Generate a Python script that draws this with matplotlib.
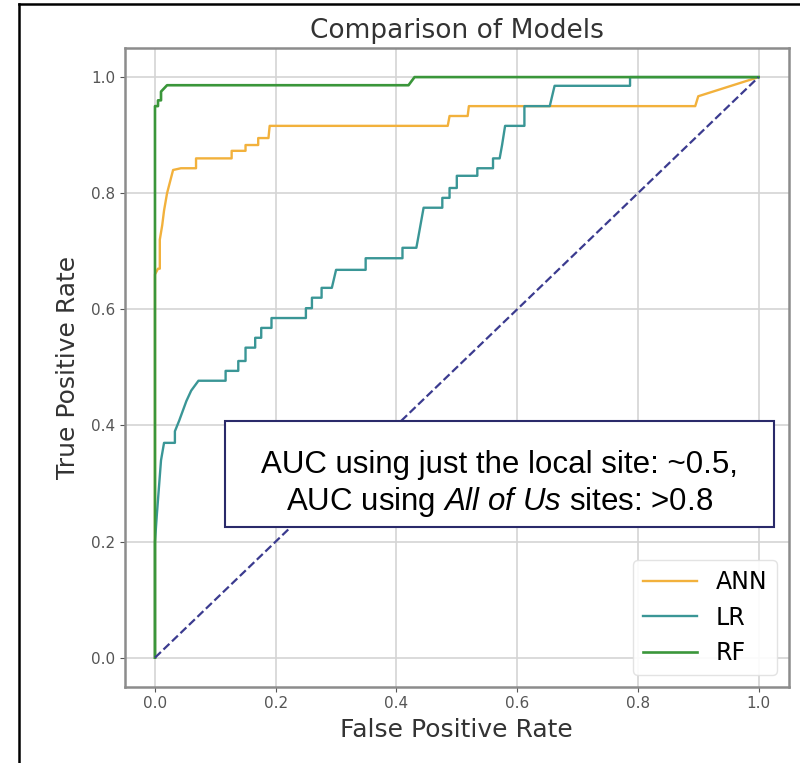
import matplotlib.pyplot as plt
from matplotlib.patches import Rectangle
from matplotlib.lines import Line2D

plt.rcParams['mathtext.fontset'] = 'custom'
plt.rcParams['mathtext.rm'] = 'Liberation Sans'
plt.rcParams['mathtext.it'] = 'Liberation Sans:italic'

# ROC curve corners
ann_fpr = [0, 0, 0.005, 0.008, 0.008, 0.012, 0.015, 0.02, 0.03, 0.043, 0.068, 0.068,
           0.127, 0.127, 0.15, 0.15, 0.171, 0.171, 0.188, 0.19, 0.485, 0.488,
           0.518, 0.52, 0.895, 0.9, 1.0]
ann_tpr = [0, 0.66, 0.67, 0.67, 0.72, 0.745, 0.77, 0.80, 0.84, 0.843, 0.843, 0.86,
           0.86, 0.873, 0.873, 0.883, 0.883, 0.895, 0.895, 0.916, 0.916, 0.933,
           0.933, 0.95, 0.95, 0.967, 1.0]

lr_fpr = [0, 0, 0.003, 0.01, 0.015, 0.033, 0.033, 0.04, 0.052, 0.06, 0.072, 0.117,
          0.117, 0.138, 0.138, 0.15, 0.15, 0.166, 0.166, 0.176, 0.176, 0.193, 0.193,
          0.25, 0.25, 0.26, 0.26, 0.276, 0.276, 0.293, 0.3, 0.349, 0.349, 0.41, 0.41,
          0.433, 0.436, 0.445, 0.476, 0.476, 0.488, 0.488, 0.5, 0.5, 0.534, 0.534,
          0.56, 0.56, 0.571, 0.575, 0.58, 0.612, 0.612, 0.654, 0.662, 0.787, 0.787, 1.0]
lr_tpr = [0, 0.2, 0.245, 0.34, 0.37, 0.37, 0.39, 0.408, 0.442, 0.46, 0.477, 0.477,
          0.494, 0.494, 0.511, 0.511, 0.534, 0.534, 0.551, 0.551, 0.568, 0.568, 0.585,
          0.585, 0.602, 0.602, 0.62, 0.62, 0.637, 0.637, 0.668, 0.668, 0.688, 0.688,
          0.706, 0.706, 0.723, 0.775, 0.775, 0.792, 0.792, 0.809, 0.809, 0.83, 0.83,
          0.843, 0.843, 0.86, 0.86, 0.883, 0.916, 0.916, 0.95, 0.95, 0.985, 0.985, 1.0, 1.0]

rf_fpr = [0, 0, 0.005, 0.005, 0.01, 0.01, 0.02, 0.42, 0.43, 1.0]
rf_tpr = [0, 0.95, 0.95, 0.96, 0.96, 0.975, 0.986, 0.986, 1.0, 1.0]

chance = [0, 1]

fig = plt.figure(figsize=(8, 7.63), dpi=100)
ax = fig.add_axes([0.156, 0.1, 0.83, 0.837])

ax.plot(ann_fpr, ann_tpr, color='#f2b13c', lw=1.7, label='ANN')
ax.plot(lr_fpr, lr_tpr, color='#3a9696', lw=1.7, label='LR')
ax.plot(rf_fpr, rf_tpr, color='#3a963a', lw=1.9, label='RF')
ax.plot(chance, chance, color='#3b3b8f', lw=1.6, linestyle='--')

ax.set_xlim(-0.05, 1.05)
ax.set_ylim(-0.05, 1.05)
ax.grid(True, color='#d4d4d4', lw=1.2)
ax.set_title('Comparison of Models', fontsize=19, color='#333333', pad=7)
ax.set_xlabel('False Positive Rate', fontsize=18, color='#333333', labelpad=5)
ax.set_ylabel('True Positive Rate', fontsize=18, color='#333333', labelpad=8)
ax.tick_params(labelsize=11, colors='#555555')
for s in ax.spines.values():
    s.set_color('#8c8c8c')
    s.set_linewidth(1.8)

ax.legend(loc='lower right', fontsize=17, handlelength=2.3, labelspacing=0.5,
          framealpha=0.9, edgecolor='#e0e0e0')

# annotation box
fig.patches.append(Rectangle((0.281, 0.309), 0.686, 0.139, transform=fig.transFigure,
                             facecolor='white', edgecolor='#2a2a6a', lw=1.5, zorder=5))
fig.text(0.624, 0.380, 'AUC using just the local site: ~0.5,', ha='center', va='baseline',
         fontsize=22.5, family='Liberation Sans', zorder=6)
fig.text(0.624, 0.3316, r'AUC using $\mathit{All\ of\ Us}$ sites: >0.8', ha='center',
         va='baseline', fontsize=22.5, family='Liberation Sans', zorder=6)

# outer frame of the screenshot
fig.lines.append(Line2D([0.024, 0.024], [0, 0.995], transform=fig.transFigure,
                        color='black', lw=1.8))
fig.lines.append(Line2D([0.024, 1.0], [0.995, 0.995], transform=fig.transFigure,
                        color='black', lw=1.8))

fig.savefig('out.png', dpi=100)
